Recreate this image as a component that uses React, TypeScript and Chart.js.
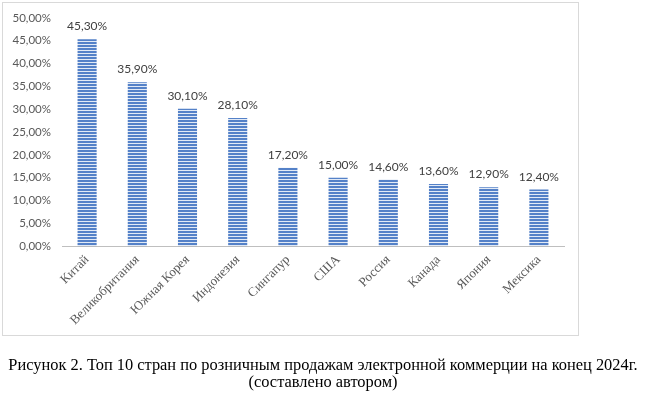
import React, { useEffect, useRef } from "react";
import { Chart, registerables } from "chart.js";

Chart.register(...registerables);

const categories = ["Китай", "Великобритания", "Южная Корея", "Индонезия", "Сингапур", "США", "Россия", "Канада", "Япония", "Мексика"];
const shares = [45.3, 35.9, 30.1, 28.1, 17.2, 15.0, 14.6, 13.6, 12.9, 12.4];
const yMax = 50;
const yStep = 5;
const captionLines = [
  "Рисунок 2. Топ 10 стран по розничным продажам электронной коммерции на конец 2024г.",
  "(составлено автором)",
];

const fmt = (v: number) => v.toFixed(2).replace(".", ",") + "%";

function makePattern(): CanvasPattern | string {
  const c = document.createElement("canvas");
  c.width = 4;
  c.height = 3;
  const ctx = c.getContext("2d");
  if (!ctx) return "#4472C4";
  ctx.fillStyle = "#5481C8";
  ctx.fillRect(0, 0, 4, 3);
  ctx.fillStyle = "#E2EAF6";
  ctx.fillRect(0, 2, 4, 1);
  const p = ctx.createPattern(c, "repeat");
  return p || "#4472C4";
}

const dataLabelPlugin = {
  id: "dataLabels",
  afterDatasetsDraw(chart: any) {
    const ctx = chart.ctx;
    const meta = chart.getDatasetMeta(0);
    ctx.save();
    ctx.font = "12px Lato, 'DejaVu Sans', sans-serif";
    ctx.fillStyle = "#404040";
    ctx.textAlign = "center";
    ctx.textBaseline = "alphabetic";
    meta.data.forEach((el: any, i: number) => {
      ctx.fillText(fmt(shares[i]), el.x, el.y - 9);
    });
    ctx.restore();
  },
};

const framePlugin = {
  id: "frameAndCaption",
  beforeDraw(chart: any) {
    const ctx = chart.ctx;
    ctx.save();
    ctx.fillStyle = "#FFFFFF";
    ctx.fillRect(0, 0, chart.width, chart.height);
    ctx.strokeStyle = "#D9D9D9";
    ctx.lineWidth = 1;
    ctx.strokeRect(2.5, 2.5, 576, 333);
    ctx.restore();
  },
  afterDraw(chart: any) {
    const ctx = chart.ctx;
    ctx.save();
    ctx.font = "16.4px 'Liberation Serif', 'Times New Roman', serif";
    ctx.fillStyle = "#000000";
    ctx.textAlign = "center";
    ctx.textBaseline = "alphabetic";
    ctx.fillText(captionLines[0], chart.width / 2, 370);
    ctx.fillText(captionLines[1], chart.width / 2, 387);
    ctx.restore();
  },
};

export default function App() {
  const ref = useRef<HTMLCanvasElement | null>(null);
  useEffect(() => {
    if (!ref.current) return;
    const chart = new Chart(ref.current, {
      type: "bar",
      data: {
        labels: categories,
        datasets: [
          {
            data: shares,
            backgroundColor: makePattern() as any,
            borderWidth: 0,
            barPercentage: 0.38,
            categoryPercentage: 1,
          },
        ],
      },
      options: {
        animation: false,
        responsive: false,
        maintainAspectRatio: false,
        layout: { padding: { left: 11, top: 9.5, right: 82, bottom: 64 } },
        plugins: { legend: { display: false }, tooltip: { enabled: false } },
        scales: {
          x: {
            grid: { display: false, drawTicks: false },
            border: { display: true, color: "#BFBFBF", width: 1 },
            ticks: {
              minRotation: 45,
              maxRotation: 45,
              color: "#595959",
              padding: 6,
              font: { family: "Liberation Serif", size: 13 },
            },
          },
          y: {
            min: 0,
            max: yMax,
            grid: { display: false, drawTicks: false },
            border: { display: false },
            afterFit: (scale: any) => {
              scale.width = 51;
            },
            ticks: {
              stepSize: yStep,
              padding: 11,
              color: "#595959",
              font: { family: "Lato, 'DejaVu Sans', sans-serif", size: 11.5 },
              callback: (v: any) => fmt(Number(v)),
            },
          },
        },
      },
      plugins: [framePlugin, dataLabelPlugin],
    });
    return () => chart.destroy();
  }, []);

  return (
    <div style={{ position: "absolute", left: 0, top: 0, width: 646, height: 398, background: "#fff" }}>
      <canvas ref={ref} width={646} height={398} style={{ display: "block" }} />
    </div>
  );
}
